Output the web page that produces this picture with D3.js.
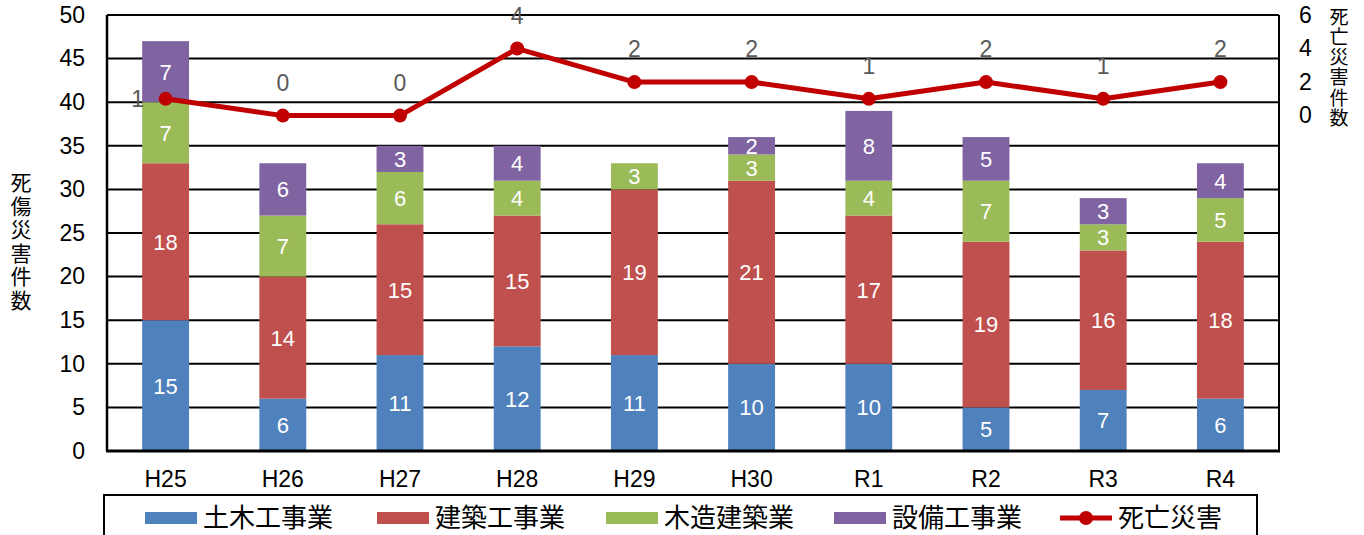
<!DOCTYPE html>
<html><head><meta charset="utf-8">
<script src="https://cdn.jsdelivr.net/npm/d3@7"></script>
<style>
html,body{margin:0;padding:0;background:#fff;}
svg{display:block;font-family:"Liberation Sans",Arial,sans-serif;}
.jp{font-family:"Noto Sans CJK JP","Noto Sans",sans-serif;}
.vt{writing-mode:vertical-rl;text-orientation:upright;}
</style></head>
<body>
<svg id="chart" width="1364" height="535"></svg>
<script>
const categories = ["H25","H26","H27","H28","H29","H30","R1","R2","R3","R4"];
const doboku   = [15,6,11,12,11,10,10,5,7,6];
const kenchiku = [18,14,15,15,19,21,17,19,16,18];
const mokuzo   = [7,7,6,4,3,3,4,7,3,5];
const setsubi  = [7,6,3,4,0,2,8,5,3,4];
const deaths   = [1,0,0,4,2,2,1,2,1,2];
const seriesNames = ["土木工事業","建築工事業","木造建築業","設備工事業"];
const lineName = "死亡災害";
const leftTicks = [0,5,10,15,20,25,30,35,40,45,50];
const rightTicks = [0,2,4,6];
const colors = ["#4F81BD","#C0504D","#9BBB59","#8064A2"];
const lineColor = "#C00000";

const svg = d3.select("#chart");
const L = 107, R = 1279, T = 15, B = 451;

const x = d3.scaleBand().domain(categories).range([L, R]).paddingInner(0.6).paddingOuter(0.3);
const y = d3.scaleLinear().domain([0,50]).range([B, T]);
const y2 = d3.scaleLinear().domain([-20,6]).range([B, T]);

// gridlines
svg.append("g").selectAll("line").data(leftTicks.filter(d=>d>0)).join("line")
  .attr("x1", L).attr("x2", R).attr("y1", d=>y(d)).attr("y2", d=>y(d))
  .attr("stroke", "#000").attr("stroke-width", 2);

// stacked bars
const table = categories.map((c,i)=>({cat:c, s0:doboku[i], s1:kenchiku[i], s2:mokuzo[i], s3:setsubi[i]}));
const stack = d3.stack().keys(["s0","s1","s2","s3"])(table);
const gBars = svg.append("g");
stack.forEach((layer, k) => {
  const g = gBars.append("g");
  g.selectAll("rect").data(layer).join("rect")
    .attr("x", d=>x(d.data.cat)).attr("width", x.bandwidth())
    .attr("y", d=>y(d[1])).attr("height", d=>y(d[0])-y(d[1]))
    .attr("fill", colors[k]);
  g.selectAll("text").data(layer.filter(d=>d[1]-d[0]>0)).join("text")
    .attr("x", d=>x(d.data.cat)+x.bandwidth()/2)
    .attr("y", d=>y((d[0]+d[1])/2))
    .attr("dy","0.36em").attr("text-anchor","middle")
    .attr("fill","#fff").attr("font-size", 22)
    .text(d=>d[1]-d[0]);
});

// axes frame
svg.append("line").attr("x1",L).attr("x2",L).attr("y1",T).attr("y2",B).attr("stroke","#000").attr("stroke-width",2.5);
svg.append("line").attr("x1",R).attr("x2",R).attr("y1",T).attr("y2",B).attr("stroke","#000").attr("stroke-width",2);
svg.append("line").attr("x1",L-1).attr("x2",R+1).attr("y1",B).attr("y2",B).attr("stroke","#000").attr("stroke-width",3);

// left axis labels
const yAxis = d3.axisLeft(y).tickValues(leftTicks).tickSize(0).tickPadding(22);
const gy = svg.append("g").attr("transform",`translate(${L},0)`).call(yAxis);
gy.select(".domain").remove();
gy.selectAll("text").attr("font-size",23).attr("fill","#000").attr("font-family","Liberation Sans, Arial, sans-serif");

// right axis labels
const y2Axis = d3.axisRight(y2).tickValues(rightTicks).tickSize(0).tickPadding(20);
const gy2 = svg.append("g").attr("transform",`translate(${R},0)`).call(y2Axis);
gy2.select(".domain").remove();
gy2.selectAll("text").attr("font-size",23).attr("fill","#000").attr("font-family","Liberation Sans, Arial, sans-serif");

// x axis labels
const xAxis = d3.axisBottom(x).tickSize(0).tickPadding(20);
const gx = svg.append("g").attr("transform",`translate(0,${B})`).call(xAxis);
gx.select(".domain").remove();
gx.selectAll("text").attr("font-size",23).attr("fill","#000").attr("font-family","Liberation Sans, Arial, sans-serif");

// line series
const pts = categories.map((c,i)=>({cat:c, v:deaths[i]}));
svg.append("path").datum(pts)
  .attr("d", d3.line().x(d=>x(d.cat)+x.bandwidth()/2).y(d=>y2(d.v)))
  .attr("fill","none").attr("stroke",lineColor).attr("stroke-width",5).attr("stroke-linejoin","round");
svg.append("g").selectAll("circle").data(pts).join("circle")
  .attr("cx", d=>x(d.cat)+x.bandwidth()/2).attr("cy", d=>y2(d.v)).attr("r",7).attr("fill",lineColor);
svg.append("g").selectAll("text").data(pts).join("text")
  .attr("x", (d,i)=> i===0 ? x(d.cat)+x.bandwidth()/2-28 : x(d.cat)+x.bandwidth()/2)
  .attr("y", (d,i)=> i===0 ? y2(d.v) : y2(d.v)-33)
  .attr("dy","0.36em").attr("text-anchor","middle")
  .attr("fill","#595959").attr("font-size",23)
  .text(d=>d.v);

// axis titles (vertical)
svg.append("text").attr("class","jp vt").attr("x",21).attr("y",172)
  .attr("font-size",21).attr("letter-spacing",2.5).attr("fill","#000").text("死傷災害件数");
svg.append("text").attr("class","jp vt").attr("x",1339).attr("y",7)
  .attr("font-size",19).attr("letter-spacing",1.2).attr("fill","#000").text("死亡災害件数");

// legend
svg.append("rect").attr("x",104).attr("y",495).attr("width",1153).attr("height",60)
  .attr("fill","#fff").attr("stroke","#000").attr("stroke-width",2);
const legendItems = [
  {name:seriesNames[0], color:colors[0], x:145, type:"bar"},
  {name:seriesNames[1], color:colors[1], x:377, type:"bar"},
  {name:seriesNames[2], color:colors[2], x:606, type:"bar"},
  {name:seriesNames[3], color:colors[3], x:834, type:"bar"},
  {name:lineName, color:lineColor, x:1060, type:"line"}
];
const ly = 518;
const lg = svg.append("g");
legendItems.forEach(it=>{
  if(it.type==="bar"){
    lg.append("rect").attr("x",it.x).attr("y",ly-6).attr("width",52).attr("height",12).attr("fill",it.color);
  } else {
    lg.append("line").attr("x1",it.x).attr("x2",it.x+52).attr("y1",ly).attr("y2",ly).attr("stroke",it.color).attr("stroke-width",5);
    lg.append("circle").attr("cx",it.x+26).attr("cy",ly).attr("r",7).attr("fill",it.color);
  }
  lg.append("text").attr("class","jp").attr("x",it.x+58).attr("y",ly).attr("dy","0.36em")
    .attr("font-size",26).attr("fill","#000").text(it.name);
});
</script>
</body></html>
